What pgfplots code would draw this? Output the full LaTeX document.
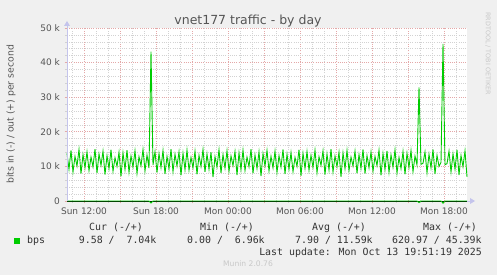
\documentclass[border=0pt]{standalone}
\usepackage{pgfplots}
\pgfplotsset{compat=1.18}
\usepackage{pgfplotstable}
\usepackage{fontspec}
\setmainfont{DejaVu Sans}
\newfontfamily\monofont{DejaVu Sans Mono}
\usetikzlibrary{arrows.meta}
\definecolor{bgc}{HTML}{F0F0F0}
\definecolor{majgrid}{HTML}{E4A8A8}
\definecolor{mingrid}{HTML}{D2D2D2}
\definecolor{axl}{HTML}{C4C4EC}
\definecolor{munin}{HTML}{00CC00}
\definecolor{txt}{HTML}{555555}
\definecolor{ltxt}{HTML}{333333}
\definecolor{faint}{HTML}{C8C8C8}

% out (+) traffic in k bits/s, 10-minute steps starting Sun 10:35
\pgfplotstableread{
y
13.8
9.2
14.6
8.4
12.9
10.1
14.9
7.9
13.4
9.6
14.2
8.8
12.7
9.9
15.0
8.1
13.6
10.3
14.4
7.6
13.1
9.4
14.8
8.6
12.5
10.0
14.1
7.1
13.9
9.1
14.7
8.3
13.0
9.8
14.5
8.0
12.8
10.2
14.9
8.7
13.3
9.5
43.2
10.4
14.3
8.2
13.7
9.7
14.6
7.8
12.9
9.3
15.0
8.5
13.5
10.1
14.2
7.4
13.8
9.0
14.7
8.9
12.6
9.6
14.4
7.7
13.2
10.0
14.9
8.4
13.6
9.2
14.1
6.9
12.8
9.8
14.8
8.1
13.4
9.5
14.5
8.6
13.0
10.2
14.3
7.5
13.9
9.1
14.7
8.8
12.7
9.9
15.0
8.0
13.3
9.4
14.2
7.2
13.7
10.1
14.6
8.7
12.9
9.6
14.4
8.3
13.1
9.8
14.9
7.8
13.5
9.2
14.0
8.5
12.6
10.0
14.8
7.3
13.8
9.4
14.3
8.9
13.2
9.7
14.7
8.2
12.8
10.3
14.5
7.6
13.6
9.0
15.0
8.4
13.0
9.9
14.1
7.0
13.9
9.3
14.6
8.8
12.7
10.1
14.4
8.0
13.4
9.5
14.9
7.9
13.1
9.6
14.2
8.6
12.9
10.2
14.7
7.4
13.7
9.1
14.5
8.3
13.3
9.8
14.8
8.1
12.6
9.4
14.3
7.7
13.8
9.7
14.6
8.5
13.0
10.4
32.8
10.6
10.9
14.2
8.2
13.5
9.6
14.9
7.8
13.2
10.0
11.2
45.4
10.5
10.8
14.4
8.4
13.6
9.2
14.8
7.5
13.1
9.9
14.5
7.0
}\outdata

\begin{document}
\begin{tikzpicture}[x=1pt,y=1pt]
\fill[bgc] (0,0) rectangle (497,275);
\begin{axis}[
  at={(67pt,74pt)}, anchor=south west, scale only axis,
  width=400pt, height=173pt,
  xmin=635, xmax=2635, ymin=0, ymax=50,
  axis background/.style={fill=white},
  axis line style={draw=none},
  xtick={720,900,...,2520},
  xticklabels={Sun 12:00,,Sun 18:00,,Mon 00:00,,Mon 06:00,,Mon 12:00,,Mon 18:00},
  minor xtick={660,720,...,2580},
  ytick={0,10,...,50},
  yticklabels={0,10 k,20 k,30 k,40 k,50 k},
  minor ytick={2,4,...,48},
  grid=both,
  major grid style={majgrid, line width=0.6pt, dash pattern=on 1pt off 1.2pt},
  minor grid style={mingrid, line width=0.6pt, dash pattern=on 1pt off 1.2pt},
  tick pos=left, tick align=outside,
  major tick length=2.5pt, minor tick length=2pt,
  major tick style={majgrid, line width=0.6pt},
  minor tick style={mingrid, line width=0.6pt},
  tick label style={font=\fontsize{9}{10}\selectfont, text=txt},
  xticklabel style={yshift=-1pt},
  yticklabel style={xshift=-1pt},
  clip=false,
]
\addplot[munin, line width=0.9pt] table[x expr={635+10*\coordindex}, y=y] {\outdata};
\draw[black, line width=0.9pt] (axis cs:635,0) -- (axis cs:2635,0);
% in (-) traffic in k bits/s, drawn below zero
\addplot[munin, line width=0.9pt] coordinates {(635,0) (1045,0) (1055,-0.55) (1065,0) (2385,0) (2395,-0.45) (2405,0) (2505,0) (2515,-0.62) (2525,0) (2635,0)};
\end{axis}
% axes
\draw[axl, line width=0.8pt] (67,74) -- (67,250);
\fill[axl] (64,249) -- (70,249) -- (67,254) -- cycle;
\draw[axl, line width=0.8pt] (467,74) -- (471,74);
\fill[axl] (470,71) -- (470,77) -- (475,74) -- cycle;
% title and labels
\node[anchor=base, text=txt, font=\fontsize{12.5}{14}\selectfont, inner sep=0] at (248,250) {vnet177 traffic - by day};
\node[rotate=90, text=txt, font=\fontsize{9.3}{10}\selectfont, inner sep=0] at (11,160.5) {bits in (-) / out (+) per second};
\node[rotate=-90, text=faint, font=\fontsize{6.4}{7}\selectfont, inner sep=0] at (488,221.5) {RRDTOOL / TOBI OETIKER};
% legend
\begin{scope}[every node/.style={anchor=base west, inner sep=0, text=ltxt, font=\monofont\fontsize{9.9}{11}\selectfont}]
\node at (89,44.5) {Cur (-/+)};
\node at (200,44.5) {Min (-/+)};
\node at (312,44.5) {Avg (-/+)};
\node at (423,44.5) {Max (-/+)};
\fill[munin] (14,31) rectangle (20,37);
\node at (27,31.5) {bps};
\node at (78.7,31.5) {9.58 /\ \ 7.04k};
\node at (187,31.5) {0.00 /\ \ 6.96k};
\node at (295,31.5) {7.90 / 11.59k};
\node at (392,31.5) {620.97 / 45.39k};
\node[anchor=base east] at (482,19.5) {Last update: Mon Oct 13 19:51:19 2025};
\end{scope}
\node[anchor=base, inner sep=0, text=faint, font=\fontsize{7.6}{8}\selectfont] at (248,8.5) {Munin 2.0.76};
\end{tikzpicture}
\end{document}
